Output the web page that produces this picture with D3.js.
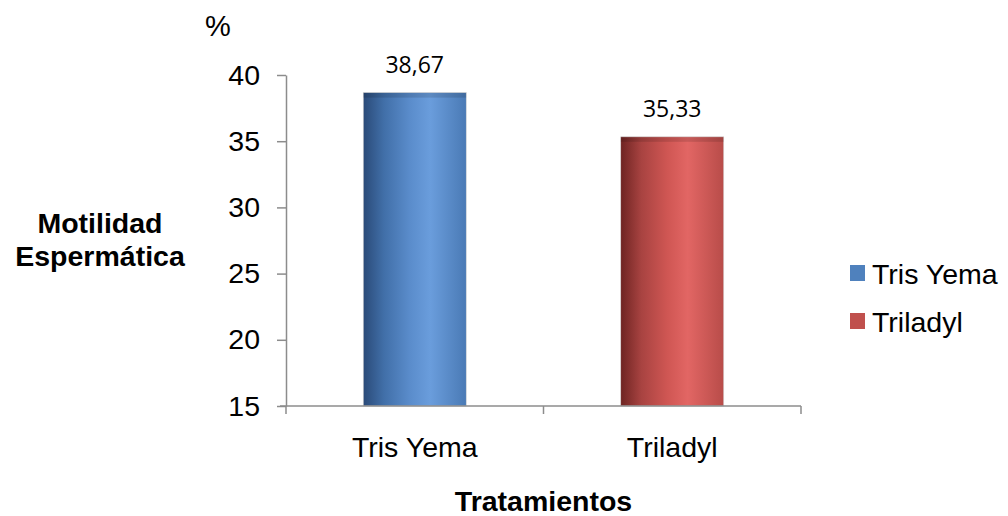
<!DOCTYPE html>
<html>
<head>
<meta charset="utf-8">
<script src="https://cdn.jsdelivr.net/npm/d3@7"></script>
<style>
  html, body { margin: 0; background: #fff; overflow: hidden; }
  svg { display: block; }
  text { font-family: 'Liberation Sans', Arial, sans-serif; }
</style>
</head>
<body>
<svg id="chart"></svg>
<script>
const categories = ['Tris Yema', 'Triladyl']
const values = [38.67, 35.33]
const valueLabels = ['38,67', '35,33']
const yTicks = [15, 20, 25, 30, 35, 40]

const width = 1008
const height = 516
const margin = { top: 75, right: 207, bottom: 110, left: 286 }
const innerWidth = width - margin.left - margin.right
const innerHeight = height - margin.top - margin.bottom
const fontSize = '28.5px'

const svg = d3.select('#chart')
  .attr('width', width)
  .attr('height', height)

const defs = svg.append('defs')
const palettes = [
  ['#2a4a78', '#416fa8', '#5a8ccb', '#6a9ddc', '#4a7ab5'],
  ['#6e2422', '#a84341', '#cf5653', '#e26664', '#b84c49']
]
palettes.forEach((p, i) => {
  const grad = defs.append('linearGradient')
    .attr('id', 'grad' + i)
    .attr('x1', '0%').attr('x2', '100%').attr('y1', '0%').attr('y2', '0%')
  const stops = [0, 0.2, 0.45, 0.65, 1]
  stops.forEach((s, j) => grad.append('stop').attr('offset', s).attr('stop-color', p[j]))
})
const colors = ['#4f81bd', '#c0504d']

const g = svg.append('g')
  .attr('transform', `translate(${margin.left},${margin.top})`)

const xScale = d3.scaleBand()
  .domain(categories)
  .range([0, innerWidth])
  .paddingInner(0.6)
  .paddingOuter(0.3)

const xEdge = d3.scaleBand()
  .domain(categories)
  .range([0, innerWidth])

const yScale = d3.scaleLinear()
  .domain([15, 40])
  .range([innerHeight, 0])

// Bars
g.selectAll('.bar')
  .data(values)
  .enter().append('rect')
  .attr('class', 'bar')
  .attr('x', (d, i) => xScale(categories[i]))
  .attr('y', d => yScale(d))
  .attr('width', xScale.bandwidth())
  .attr('height', d => innerHeight - yScale(d))
  .attr('fill', (d, i) => `url(#grad${i})`)
  .attr('stroke', '#d8d8d8')
  .attr('stroke-width', 0.6)

// Top shading
g.selectAll('.bar-top')
  .data(values)
  .enter().append('rect')
  .attr('x', (d, i) => xScale(categories[i]))
  .attr('y', d => yScale(d))
  .attr('width', xScale.bandwidth())
  .attr('height', 5)
  .attr('fill', '#000')
  .attr('opacity', 0.12)

// Value labels
g.selectAll('.val')
  .data(values)
  .enter().append('text')
  .attr('x', (d, i) => xScale(categories[i]) + xScale.bandwidth() / 2)
  .attr('y', d => yScale(d) - 20)
  .attr('text-anchor', 'middle')
  .style('font-family', "'Open Sans', sans-serif")
  .attr('font-size', '23px')
  .attr('fill', '#000')
  .text((d, i) => valueLabels[i])

// Y axis
const yAxis = g.append('g')
  .call(d3.axisLeft(yScale).tickValues(yTicks).tickSize(9).tickSizeOuter(0).tickPadding(17))
yAxis.select('.domain').attr('stroke', '#8c8c8c').attr('stroke-width', 1.5)
yAxis.selectAll('.tick line').attr('stroke', '#8c8c8c').attr('stroke-width', 1.5)
yAxis.selectAll('.tick text')
  .attr('font-size', fontSize)
  .attr('fill', '#000')
  .style('font-family', "'Liberation Sans', Arial, sans-serif")

// X axis
const xAxis = g.append('g')
  .attr('transform', `translate(0,${innerHeight})`)
xAxis.append('line')
  .attr('x1', -6).attr('x2', innerWidth)
  .attr('stroke', '#8c8c8c').attr('stroke-width', 1.5)
const edges = categories.map(c => xEdge(c)).concat([innerWidth])
xAxis.selectAll('.xtick')
  .data(edges)
  .enter().append('line')
  .attr('x1', d => d).attr('x2', d => d)
  .attr('y1', 0).attr('y2', 8)
  .attr('stroke', '#8c8c8c').attr('stroke-width', 1.5)
xAxis.selectAll('.xlabel')
  .data(categories)
  .enter().append('text')
  .attr('x', d => xEdge(d) + xEdge.bandwidth() / 2)
  .attr('y', 51)
  .attr('text-anchor', 'middle')
  .attr('font-size', fontSize)
  .attr('fill', '#000')
  .text(d => d)

// Axis titles
svg.append('text')
  .attr('x', margin.left + innerWidth / 2)
  .attr('y', 511)
  .attr('text-anchor', 'middle')
  .attr('font-size', fontSize)
  .attr('font-weight', 'bold')
  .text('Tratamientos')

const yTitle = svg.append('text')
  .attr('text-anchor', 'middle')
  .attr('font-size', fontSize)
  .attr('font-weight', 'bold')
yTitle.append('tspan').attr('x', 100).attr('y', 233).text('Motilidad')
yTitle.append('tspan').attr('x', 100).attr('y', 266).text('Espermática')

svg.append('text')
  .attr('x', 205)
  .attr('y', 36)
  .attr('font-size', '29px')
  .text('%')

// Legend
const legend = svg.append('g')
  .attr('transform', 'translate(850,0)')
categories.forEach((c, i) => {
  const y = 273 + i * 48
  legend.append('rect')
    .attr('x', 0).attr('y', y - 8)
    .attr('width', 15).attr('height', 16)
    .attr('fill', colors[i])
  legend.append('text')
    .attr('x', 22).attr('y', y + 11)
    .attr('font-size', fontSize)
    .text(c)
})
</script>
</body>
</html>
